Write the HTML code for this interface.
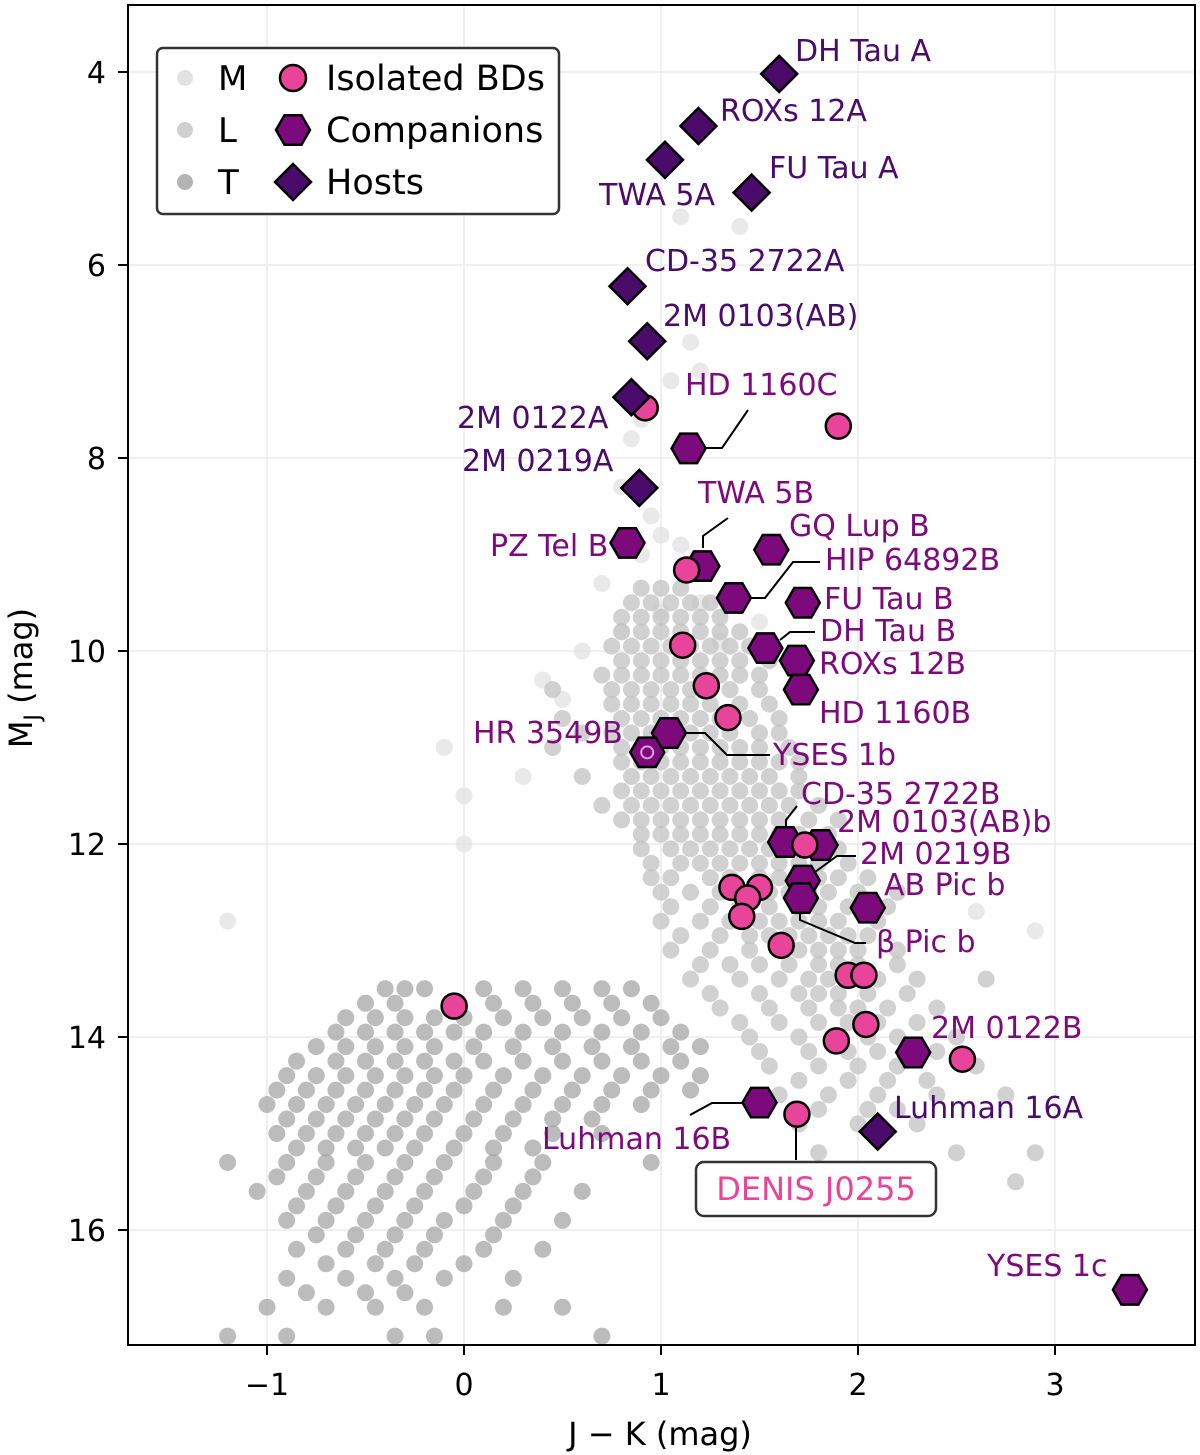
<!DOCTYPE html>
<html><head><meta charset="utf-8">
<style>
html,body{margin:0;padding:0;background:#fff;}
svg{display:block;font-family:"DejaVu Sans","Liberation Sans",sans-serif;}
</style></head>
<body>
<svg id="chart" width="1200" height="1455" viewBox="0 0 1200 1455" xmlns="http://www.w3.org/2000/svg">
<g id="grid"></g>
<g id="bg"></g>
<g id="lines"></g>
<g id="marks"></g>
<g id="labels"></g>
<rect x="128" y="5" width="1067" height="1340" fill="none" stroke="#000" stroke-width="2"/>
<g id="axes"></g>
<g id="legend"></g>
</svg>
<script>
// ---- data ----
const xTicks = [-1, 0, 1, 2, 3];
const xTickLabels = ["\u22121", "0", "1", "2", "3"];
const yTicks = [4, 6, 8, 10, 12, 14, 16];
const yTickLabels = ["4", "6", "8", "10", "12", "14", "16"];

const mDwarfs = [[1.1,5.5],[1.4,5.6],[0.9,7.6],[0.85,7.8],[0.8,8.3],[0.95,8.6],[1.0,8.8],[1.1,8.9],[0.9,9.0],[0.7,9.3],[1.2,9.5],[1.0,9.6],[0.8,9.8],[1.3,9.9],[0.6,10.0],[1.5,9.7],[0.4,10.3],[0.5,10.5],[-0.1,11.0],[0.0,11.5],[0.0,12.0],[0.3,11.3],[1.15,6.8],[1.05,7.2],[1.2,7.1],[-1.2,12.8],[2.9,12.9],[2.6,12.7]];
const lRows = [
 [9.5,[0.85,0.95,1.05,1.15,1.25]],
 [9.8,[0.8,0.9,1.0,1.1,1.2,1.3,1.4]],
 [10.1,[0.8,0.9,1.0,1.1,1.2,1.3,1.4,1.55]],
 [10.4,[0.45,0.75,0.85,0.95,1.05,1.15,1.25,1.35,1.5]],
 [10.7,[0.5,0.8,0.9,1.0,1.1,1.2,1.3,1.45,1.6]],
 [11.0,[0.45,0.8,0.9,1.0,1.1,1.2,1.3,1.4,1.5,1.65]],
 [11.3,[0.6,0.85,0.95,1.05,1.15,1.25,1.35,1.45,1.55,1.7]],
 [11.6,[0.7,0.85,0.95,1.05,1.15,1.25,1.35,1.45,1.55,1.65,1.8]],
 [11.9,[0.9,1.0,1.1,1.2,1.3,1.4,1.5,1.6,1.7,1.85]],
 [12.2,[0.95,1.1,1.2,1.3,1.4,1.5,1.6,1.7,1.8,1.95]],
 [12.5,[1.0,1.15,1.3,1.45,1.55,1.65,1.75,1.85,2.0,2.2]],
 [12.8,[1.0,1.2,1.35,1.5,1.6,1.7,1.8,1.9,2.1]],
 [13.1,[1.05,1.25,1.45,1.6,1.7,1.8,1.9,2.0,2.2]],
 [13.4,[1.15,1.4,1.6,1.75,1.85,1.95,2.1,2.3,2.65]],
 [13.7,[1.3,1.55,1.75,1.9,2.0,2.15,2.4]],
 [14.0,[1.45,1.7,1.9,2.05,2.2,2.5]],
 [14.3,[1.55,1.8,2.0,2.2,2.6]],
 [14.6,[1.6,1.85,2.1,2.4,2.75]],
 [14.9,[1.7,2.0,2.3]],
 [15.2,[1.8,2.5,2.9]],
 [15.5,[1.9,2.8]]
];
const lRowsB = [
 [9.35,[0.9,1.0,1.1]],
 [9.65,[0.8,0.9,1.0,1.1,1.2,1.3]],
 [9.95,[0.75,0.85,0.95,1.05,1.15,1.25,1.35,1.45]],
 [10.25,[0.7,0.8,0.9,1.0,1.1,1.2,1.3,1.4,1.5]],
 [10.55,[0.75,0.85,0.95,1.05,1.15,1.25,1.4,1.55]],
 [10.85,[0.6,0.75,0.85,0.95,1.05,1.15,1.25,1.35,1.5,1.6]],
 [11.15,[0.8,0.9,1.0,1.1,1.2,1.3,1.4,1.5,1.6,1.7]],
 [11.45,[0.8,0.9,1.0,1.1,1.2,1.3,1.4,1.5,1.6,1.7]],
 [11.75,[0.8,0.9,1.0,1.1,1.2,1.3,1.4,1.5,1.6,1.75,1.9]],
 [12.05,[0.9,1.05,1.15,1.25,1.35,1.45,1.55,1.65,1.8,1.9]],
 [12.35,[0.95,1.05,1.25,1.35,1.5,1.6,1.7,1.8,1.9,2.05]],
 [12.65,[1.05,1.25,1.4,1.55,1.7,1.8,1.95,2.15]],
 [12.95,[1.1,1.3,1.45,1.55,1.65,1.75,1.85,1.95,2.05]],
 [13.25,[1.2,1.35,1.5,1.65,1.8,1.9,2.0,2.2]],
 [13.55,[1.25,1.5,1.7,1.8,1.9,2.05,2.25]],
 [13.85,[1.4,1.6,1.8,1.95,2.1,2.3]],
 [14.15,[1.5,1.75,1.95,2.1,2.4]],
 [14.45,[1.7,1.95,2.15,2.35]],
 [14.75,[1.8,2.05,2.2]]
];
const tRows = [
 [13.5,[-0.4,-0.3,-0.2,0.1,0.3,0.5,0.7,0.85]],
 [13.8,[-0.6,-0.45,-0.3,-0.15,0.0,0.2,0.4,0.6,0.8,1.0]],
 [14.1,[-0.75,-0.6,-0.45,-0.3,-0.15,0.05,0.25,0.45,0.65,0.85,1.05,1.2]],
 [14.4,[-0.9,-0.75,-0.6,-0.45,-0.3,-0.15,0.0,0.2,0.4,0.6,0.8,1.0,1.2]],
 [14.7,[-1.0,-0.85,-0.7,-0.55,-0.4,-0.25,-0.1,0.1,0.3,0.5,0.7,0.9]],
 [15.0,[-0.95,-0.8,-0.65,-0.5,-0.35,-0.2,0.0,0.2,0.45,0.7]],
 [15.3,[-1.2,-0.9,-0.7,-0.5,-0.3,-0.1,0.15,0.4,0.95]],
 [15.6,[-1.05,-0.8,-0.6,-0.4,-0.2,0.05,0.3,0.6]],
 [15.9,[-0.9,-0.7,-0.5,-0.3,-0.1,0.2,0.5]],
 [16.2,[-0.85,-0.6,-0.4,-0.2,0.1,0.4]],
 [16.5,[-0.9,-0.6,-0.35,-0.1,0.25]],
 [16.8,[-1.0,-0.7,-0.45,-0.2,0.2,0.5]],
 [17.1,[-1.2,-0.9,-0.35,-0.15,0.7]]
];
const tRowsB = [
 [13.65,[-0.5,-0.35,-0.05,0.15,0.35,0.55,0.75,0.95]],
 [13.95,[-0.65,-0.5,-0.35,-0.2,-0.05,0.1,0.3,0.5,0.7,0.9,1.1]],
 [14.25,[-0.85,-0.65,-0.5,-0.35,-0.2,-0.05,0.1,0.3,0.5,0.7,0.9,1.1]],
 [14.55,[-0.95,-0.8,-0.65,-0.5,-0.35,-0.2,-0.05,0.15,0.35,0.55,0.75,0.95,1.15]],
 [14.85,[-0.9,-0.75,-0.6,-0.45,-0.3,-0.15,0.05,0.25,0.45,0.65]],
 [15.15,[-0.85,-0.7,-0.55,-0.4,-0.25,-0.05,0.15,0.35]],
 [15.45,[-0.95,-0.75,-0.55,-0.35,-0.15,0.1,0.35]],
 [15.75,[-0.85,-0.65,-0.45,-0.25,0.0,0.25]],
 [16.05,[-0.75,-0.55,-0.35,-0.15,0.15]],
 [16.35,[-0.7,-0.45,-0.25,0.0]],
 [16.65,[-0.8,-0.5,-0.3]]
];

const isoJK = [0.92,1.90,1.13,1.11,1.23,1.34,1.73,1.36,1.50,1.44,1.41,1.61,1.95,2.03,2.04,1.89,2.53,1.69,-0.05];
const isoMJ = [7.48,7.67,9.16,9.94,10.36,10.69,12.01,12.45,12.45,12.56,12.75,13.05,13.36,13.36,13.87,14.04,14.23,14.80,13.68];

const compNames = ["HD 1160C","PZ Tel B","GQ Lup B","TWA 5B","HIP 64892B","FU Tau B","DH Tau B","ROXs 12B","HD 1160B","YSES 1b","HR 3549B","CD-35 2722B","2M 0103(AB)b","2M 0219B","\u03b2 Pic b","AB Pic b","2M 0122B","Luhman 16B","YSES 1c"];
const compJK = [1.14,0.83,1.56,1.21,1.37,1.72,1.53,1.69,1.71,1.04,0.93,1.63,1.81,1.72,1.71,2.05,2.28,1.50,3.38];
const compMJ = [7.90,8.88,8.95,9.12,9.45,9.50,9.97,10.10,10.40,10.85,11.05,11.98,12.01,12.38,12.56,12.66,14.16,14.68,16.62];

const hostNames = ["DH Tau A","ROXs 12A","TWA 5A","FU Tau A","CD-35 2722A","2M 0103(AB)","2M 0122A","2M 0219A","Luhman 16A"];
const hostJK = [1.60,1.19,1.02,1.46,0.83,0.93,0.85,0.89,2.10];
const hostMJ = [4.02,4.56,4.91,5.25,6.22,6.79,7.37,8.31,14.98];

// ---- scales ----
const X = v => 464 + v * 197;
const Y = v => 72 + (v - 4) * 96.5;
const NS = "http://www.w3.org/2000/svg";
function mk(tag, attrs, parent){const e=document.createElementNS(NS,tag);for(const k in attrs)e.setAttribute(k,attrs[k]);parent.appendChild(e);return e;}
const grid=document.getElementById('grid'), bg=document.getElementById('bg'), marks=document.getElementById('marks'), labels=document.getElementById('labels'), lines=document.getElementById('lines'), axes=document.getElementById('axes'), legend=document.getElementById('legend');

xTicks.forEach((t,i)=>{
  const gl=mk('line',{x1:X(t),x2:X(t),y1:5,y2:1345,stroke:'#ececec','stroke-width':1.5},grid);
  
  
  const tk=mk('line',{x1:X(t),x2:X(t),y1:1345,y2:1355,stroke:'#000','stroke-width':2},axes);
  
  
  const tl=mk('text',{x:X(t),y:1395,'font-size':30,'text-anchor':'middle'},axes);
  tl.textContent=xTickLabels[i];
  
  
});
yTicks.forEach((t,i)=>{
  const gl=mk('line',{x1:128,x2:1195,y1:Y(t),y2:Y(t),stroke:'#ececec','stroke-width':1.5},grid);
  
  
  const tk=mk('line',{x1:118,x2:128,y1:Y(t),y2:Y(t),stroke:'#000','stroke-width':2},axes);
  
  
  const tl=mk('text',{x:106,y:Y(t)+11,'font-size':30,'text-anchor':'end'},axes);
  tl.textContent=yTickLabels[i];
  
  
});
const xt=mk('text',{x:660,y:1445,'font-size':32,'text-anchor':'middle'},axes);
xt.textContent='J \u2212 K (mag)';


const yt=mk('text',{x:0,y:0,'font-size':32,'text-anchor':'middle',transform:'translate(32,678) rotate(-90)'},axes);
yt.innerHTML='M<tspan font-size="22" dy="8">J</tspan><tspan dy="-8"> (mag)</tspan>';



function dot(jk,mj,col,name){
  const c=mk('circle',{cx:X(jk),cy:Y(mj),r:8.5,fill:col,'fill-opacity':0.75},bg);
  
  
}
mDwarfs.forEach(p=>dot(p[0],p[1],'#e2e2e2','m-dwarf-point'));
lRows.forEach(r=>r[1].forEach(x=>dot(x,r[0],'#c2c2c2','l-dwarf-point')));
lRowsB.forEach(r=>r[1].forEach(x=>dot(x,r[0],'#c2c2c2','l-dwarf-point')));
tRows.forEach(r=>r[1].forEach(x=>dot(x,r[0],'#a6a6a6','t-dwarf-point')));
tRowsB.forEach(r=>r[1].forEach(x=>dot(x,r[0],'#a6a6a6','t-dwarf-point')));

const PINK='#e8459a', COMP='#7d0a7d', HOST='#4a0b6b';
function hexPts(cx,cy,r){let s=[];for(let i=0;i<6;i++){const a=Math.PI/180*(60*i);s.push((cx+r*Math.cos(a)).toFixed(1)+','+(cy+r*Math.sin(a)).toFixed(1));}return s.join(' ');}
function diaPts(cx,cy,r){return `${cx},${cy-r} ${cx+r},${cy} ${cx},${cy+r} ${cx-r},${cy}`;}
compJK.forEach((v,i)=>{
  const p=mk('polygon',{points:hexPts(X(v),Y(compMJ[i]),17),fill:COMP,stroke:'#000','stroke-width':2.5},marks);
  
  
  if(compNames[i]==='HR 3549B'){const c=mk('circle',{cx:X(v),cy:Y(compMJ[i]),r:6,fill:'none',stroke:'#d9a0d9','stroke-width':2},marks);
    
    }
});
isoJK.forEach((v,i)=>{
  const c=mk('circle',{cx:X(v),cy:Y(isoMJ[i]),r:12.5,fill:PINK,stroke:'#000','stroke-width':2.5},marks);
  
  
});
hostJK.forEach((v,i)=>{
  const p=mk('polygon',{points:diaPts(X(v),Y(hostMJ[i]),18),fill:HOST,stroke:'#000','stroke-width':2.5},marks);
  
  
});

const hostLabelPos=[[795,61,'start'],[720,121,'start'],[599,205,'start'],[769,178,'start'],[645,271,'start'],[663,326,'start'],[457,428,'start'],[462,471,'start'],[894,1118,'start']];
const compLabelPos=[[685,395,'start'],[490,556,'start'],[789,536,'start'],[698,503,'start'],[825,570,'start'],[824,609,'start'],[820,641,'start'],[819,674,'start'],[819,723,'start'],[773,765,'start'],[473,743,'start'],[801,804,'start'],[837,832,'start'],[860,864,'start'],[876,952,'start'],[884,895,'start'],[931,1038,'start'],[542,1149,'start'],[987,1276,'start']];
hostNames.forEach((n,i)=>{const t=mk('text',{x:hostLabelPos[i][0],y:hostLabelPos[i][1],'font-size':30,fill:HOST,'text-anchor':hostLabelPos[i][2]},labels);t.textContent=n;
  
  });
compNames.forEach((n,i)=>{const t=mk('text',{x:compLabelPos[i][0],y:compLabelPos[i][1],'font-size':30,fill:COMP,'text-anchor':compLabelPos[i][2]},labels);t.textContent=n;
  
  });
const leaders=["703,448 722,448 748,410","703,548 703,536 728,518","750,598 765,598 793,562 820,562","780,640 790,632 815,632","683,733 705,733 727,755 770,755","786,826 786,820 797,806","815,872 837,856 856,856","800,910 800,920 855,943 866,943","742,1103 712,1103 690,1115","796,1128 796,1160"];
leaders.forEach(pts=>{const l=mk('polyline',{points:pts,fill:'none',stroke:'#000','stroke-width':2},lines);
  
  });
const box=mk('rect',{x:696,y:1162,width:240,height:54,rx:8,fill:'#fff',stroke:'#333','stroke-width':2.5},labels);


const dt=mk('text',{x:816,y:1200,'font-size':32,fill:PINK,'text-anchor':'middle'},labels);
dt.textContent='DENIS J0255';



const lb=mk('rect',{x:157,y:48,width:402,height:166,rx:6,fill:'#fff','fill-opacity':0.9,stroke:'#333','stroke-width':2.5},legend);


const legGray=[['M','#e2e2e2',78],['L','#cfcfcf',130],['T','#b4b4b4',182]];
legGray.forEach(g=>{
  const c=mk('circle',{cx:185,cy:g[2],r:8,fill:g[1]},legend);
  
  
  const t=mk('text',{x:218,y:g[2]+12,'font-size':34},legend);t.textContent=g[0];
  
  
});
const c1=mk('circle',{cx:293,cy:78,r:13,fill:PINK,stroke:'#000','stroke-width':2.5},legend);


const h1=mk('polygon',{points:hexPts(293,130,17),fill:COMP,stroke:'#000','stroke-width':2.5},legend);


const d1=mk('polygon',{points:diaPts(293,182,18),fill:HOST,stroke:'#000','stroke-width':2.5},legend);


[['Isolated BDs',90],['Companions',142],['Hosts',194]].forEach(e=>{
  const t=mk('text',{x:326,y:e[1],'font-size':35},legend);t.textContent=e[0];
  
  
});
</script>
</body></html>
